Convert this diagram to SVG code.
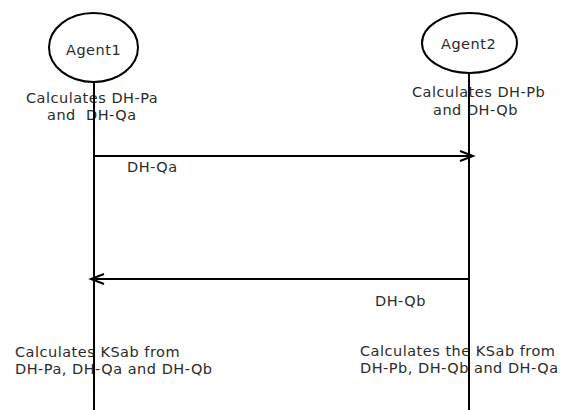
<svg xmlns="http://www.w3.org/2000/svg" width="571" height="410" viewBox="0 0 571 410">
<style>
text { font-family: "DejaVu Sans", Verdana, sans-serif; font-size: 14.5px; letter-spacing: 0.5px; fill: #2b2b2b; white-space: pre; }
.agent { fill: none; stroke: #000; stroke-width: 2; }
.life { stroke: #000; stroke-width: 2; fill: none; }
.msg { stroke: #000; stroke-width: 2; fill: none; }
</style>
<defs>
<marker id="chev" markerUnits="userSpaceOnUse" markerWidth="20" markerHeight="16" refX="14" refY="6" orient="auto">
<path d="M1,1 L14,6 L1,11" fill="none" stroke="#000" stroke-width="2"/>
</marker>
</defs>
<rect width="571" height="410" fill="#fff"/>
<g id="agent1">
<ellipse class="agent" cx="93.5" cy="47.5" rx="44.5" ry="34.5"/>
<text x="66" y="55">Agent1</text>
<text x="26" y="103">Calculates DH-Pa</text>
<text x="47" y="120">and  DH-Qa</text>
<text x="15" y="357">Calculates KSab from</text>
<text x="15" y="374">DH-Pa, DH-Qa and DH-Qb</text>
</g>
<g id="agent2">
<ellipse class="agent" cx="469.5" cy="43" rx="47.5" ry="30"/>
<text x="441" y="49">Agent2</text>
<text x="412" y="97">Calculates DH-Pb</text>
<text x="433" y="115">and DH-Qb</text>
<text x="360" y="356">Calculates the KSab from</text>
<text x="360" y="373">DH-Pb, DH-Qb and DH-Qa</text>
</g>
<g id="connectors">
<line class="life" x1="94" y1="82" x2="94" y2="410"/>
<line class="life" x1="469" y1="73" x2="469" y2="410"/>
<line class="msg" x1="94" y1="156" x2="473" y2="156" marker-end="url(#chev)"/>
<text x="127" y="172">DH-Qa</text>
<line class="msg" x1="469" y1="279" x2="91" y2="279" marker-end="url(#chev)"/>
<text x="375" y="306">DH-Qb</text>
</g>
</svg>
